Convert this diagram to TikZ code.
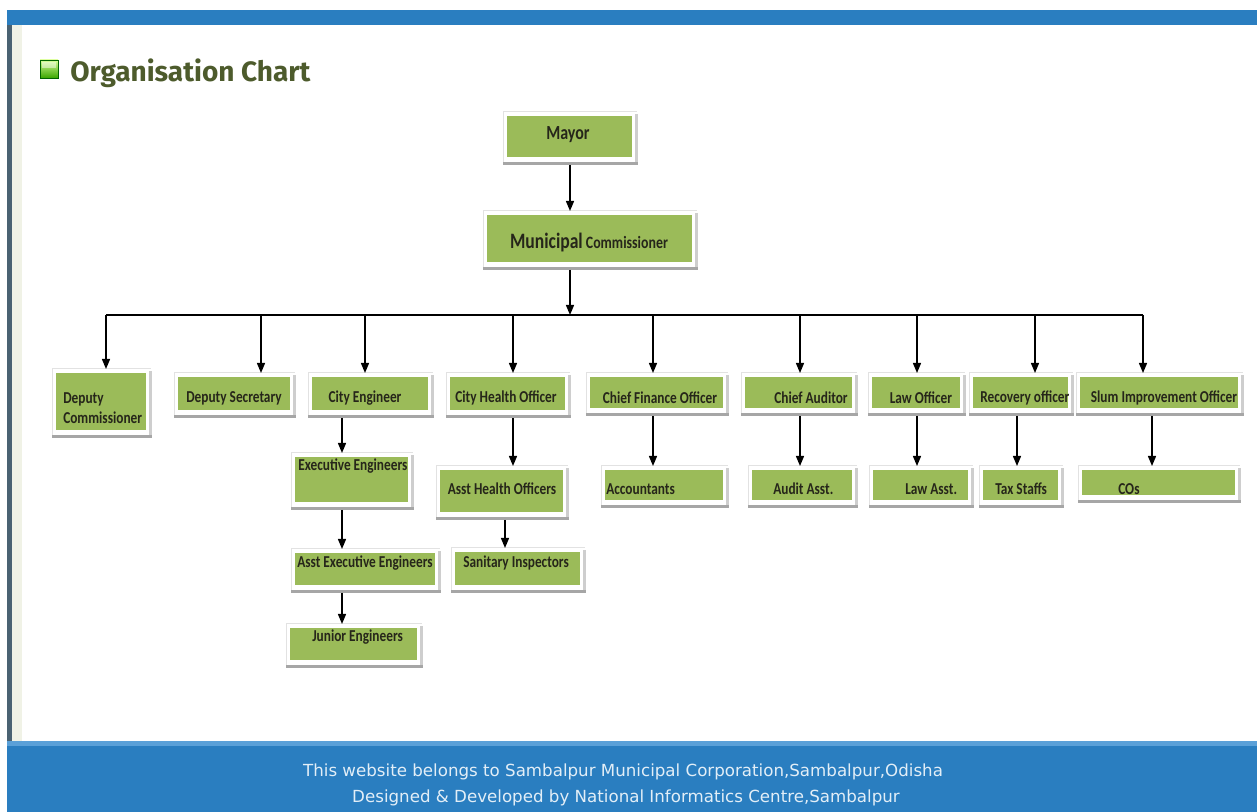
\documentclass[tikz,border=0pt]{standalone}
\usepackage{fontspec}
\setmainfont{Carlito}
\newfontfamily\footfont{DejaVu Sans}
\newfontfamily\titlefont{Fira Sans}
\usetikzlibrary{arrows.meta,fit,calc}
\definecolor{gfill}{HTML}{9BBB59}
\definecolor{webblue}{HTML}{2A7EC0}
\definecolor{webblueL}{HTML}{5AA0D8}
\definecolor{darkside}{HTML}{4A6272}
\definecolor{lightside}{HTML}{F0F2E6}
\definecolor{titlec}{HTML}{4D5B2C}
\definecolor{txtc}{HTML}{26261A}
\definecolor{footc}{HTML}{E2EEF7}
\definecolor{shadowc}{HTML}{A6A6A6}
\definecolor{framel}{HTML}{E2E2E2}
\newcommand\lt[1]{\scalebox{0.8}[1]{#1}}
\newcommand\obox[5]{%
  \fill[white] (#2-4,#3-4) rectangle (#4+5,#5+7);
  \draw[framel,line width=0.75pt] (#2-4,#5+6) -- (#2-4,#3-4) -- (#4+5,#3-4);
  \fill[shadowc!55] (#4+3,#3-2) rectangle (#4+6,#5+8);
  \fill[shadowc] (#2-4,#5+5) rectangle (#4+6,#5+8);
  \node[gbox,fit={(#2,#3)(#4,#5)}] (#1) {};
}
\tikzset{
  gbox/.style={fill=gfill,inner sep=0pt,outer ysep=3pt},
  arr/.style={draw=black,line width=1pt,-{Triangle[length=7.5pt,width=6pt]}},
  lbl/.style={font=\fontsize{12.5}{14}\selectfont\bfseries,text=txtc,inner sep=0pt},
}
\begin{document}
\begin{tikzpicture}[x=0.75pt,y=-0.75pt]
\useasboundingbox (0,0) rectangle (1257,812);
\fill[white] (0,0) rectangle (1257,812);
% page frame
\fill[webblue] (7,10) rectangle (1257,25);
\fill[darkside] (7,25) rectangle (12,741);
\fill[lightside] (12,25) rectangle (22,741);
\fill[webblue] (7,741) rectangle (1257,812);
\fill[webblueL] (7,741) rectangle (1257,746);
% title
\shade[top color=green!20!lime!40!white,bottom color=green!50!black!70!lime,draw=green!40!black] (40,60) rectangle (58,78);
\fill[white,opacity=0.45] (42,62) rectangle (56,68);
\node[anchor=west,inner sep=0pt,text=titlec,font=\titlefont\fontsize{21}{24}\selectfont\bfseries] (title) at (70,73) {Organisation Chart};
% boxes
\obox{mayor}{507}{116}{632}{157}
\obox{mc}{487}{215}{692}{262}
\obox{dc}{56}{373}{146}{430}
\obox{ds}{178}{377}{290}{410}
\obox{ce}{312}{377}{428}{410}
\obox{cho}{450}{377}{565}{410}
\obox{cfo}{590}{377}{723}{408}
\obox{ca}{745}{377}{852}{408}
\obox{lo}{872}{377}{960}{408}
\obox{ro}{973}{377}{1068}{408}
\obox{sio}{1080}{377}{1238}{408}
\obox{ee}{295}{457}{408}{502}
\obox{aho}{440}{470}{563}{512}
\obox{aee}{295}{553}{435}{585}
\obox{si}{455}{552}{580}{585}
\obox{je}{290}{628}{417}{660}
\obox{acc}{605}{470}{723}{500}
\obox{aa}{752}{470}{852}{500}
\obox{la}{873}{470}{968}{500}
\obox{ts}{983}{470}{1058}{500}
\obox{cos}{1082}{470}{1235}{495}
% labels
\node[lbl,font=\fontsize{15}{17}\selectfont\bfseries] (tmayor) at (568,135) {\lt{Mayor}};
\node[lbl,font=\fontsize{13}{17}\selectfont\bfseries] (tmc) at (589,243) {\lt{{\fontsize{16.5}{18}\selectfont Municipal} Commissioner}};
\node[lbl,anchor=west,align=left,font=\fontsize{12.5}{15}\selectfont\bfseries] (tdc) at (63,408) {\lt{Deputy}\\\lt{Commissioner}};
\node[lbl] (tds) at (234,398) {\lt{Deputy Secretary}};
\node[lbl] (tce) at (365,398) {\lt{City Engineer}};
\node[lbl] (tcho) at (506,398) {\lt{City Health Officer}};
\node[lbl] (tcfo) at (660,398) {\lt{Chief Finance Officer}};
\node[lbl] (tca) at (811,398) {\lt{Chief Auditor}};
\node[lbl] (tlo) at (921,398) {\lt{Law Officer}};
\node[lbl,anchor=west] (tro) at (980,398) {\lt{Recovery officer}};
\node[lbl] (tsio) at (1164,398) {\lt{Slum Improvement Officer}};
\node[lbl,anchor=west] (tee) at (298,466) {\lt{Executive Engineers}};
\node[lbl] (taho) at (502,489) {\lt{Asst Health Officers}};
\node[lbl,anchor=west] (taee) at (297,563) {\lt{Asst Executive Engineers}};
\node[lbl,anchor=west] (tsi) at (463,563) {\lt{Sanitary Inspectors}};
\node[lbl,anchor=west] (tje) at (312,637) {\lt{Junior Engineers}};
\node[lbl,anchor=west] (tacc) at (606,489) {\lt{Accountants}};
\node[lbl,anchor=west] (taa) at (773,489) {\lt{Audit Asst.}};
\node[lbl,anchor=west] (tla) at (905,489) {\lt{Law Asst.}};
\node[lbl,anchor=west] (tts) at (995,489) {\lt{Tax Staffs}};
\node[lbl,anchor=west] (tcos) at (1118,489) {\lt{COs}};
% connectors
\coordinate (xm) at (570,0);
\draw[arr,shorten <=3pt] (mayor.south -| xm) -- (mc.north -| xm);
\coordinate (bus) at (570,315);
\coordinate (b1) at (106,315);
\coordinate (b2) at (261,315);
\coordinate (b3) at (365,315);
\coordinate (b4) at (513,315);
\coordinate (b5) at (653,315);
\coordinate (b6) at (800,315);
\coordinate (b7) at (917,315);
\coordinate (b8) at (1035,315);
\coordinate (b9) at (1143,315);
\draw[arr,shorten <=3pt] (mc.south -| xm) -- (bus);
\draw[line width=1pt] (b1) -- (b9);
\foreach \b/\n in {b1/dc,b2/ds,b3/ce,b4/cho,b5/cfo,b6/ca,b7/lo,b8/ro,b9/sio}
  \draw[arr] (\b) -- (\n.north -| \b);
\coordinate (xce) at (342,0);
\coordinate (xcho) at (513,0);
\coordinate (xaho) at (505,0);
\coordinate (xcfo) at (653,0);
\coordinate (xca) at (800,0);
\coordinate (xlo) at (917,0);
\coordinate (xro) at (1017,0);
\coordinate (xsio) at (1152,0);
\draw[arr,shorten <=3pt] (ce.south -| xce) -- (ee.north -| xce);
\draw[arr,shorten <=3pt] (ee.south -| xce) -- (aee.north -| xce);
\draw[arr,shorten <=3pt] (aee.south -| xce) -- (je.north -| xce);
\draw[arr,shorten <=3pt] (cho.south -| xcho) -- (aho.north -| xcho);
\draw[arr,shorten <=3pt] (aho.south -| xaho) -- (si.north -| xaho);
\draw[arr,shorten <=3pt] (cfo.south -| xcfo) -- (acc.north -| xcfo);
\draw[arr,shorten <=3pt] (ca.south -| xca) -- (aa.north -| xca);
\draw[arr,shorten <=3pt] (lo.south -| xlo) -- (la.north -| xlo);
\draw[arr,shorten <=3pt] (ro.south -| xro) -- (ts.north -| xro);
\draw[arr,shorten <=3pt] (sio.south -| xsio) -- (cos.north -| xsio);
% footer
\node[text=footc,font=\footfont\fontsize{12.5}{14}\selectfont,inner sep=0pt] (f1) at (623,772) {This website belongs to Sambalpur Municipal Corporation,Sambalpur,Odisha};
\node[text=footc,font=\footfont\fontsize{12.5}{14}\selectfont,inner sep=0pt] (f2) at (626,798) {Designed \& Developed by National Informatics Centre,Sambalpur};
\end{tikzpicture}
\end{document}
